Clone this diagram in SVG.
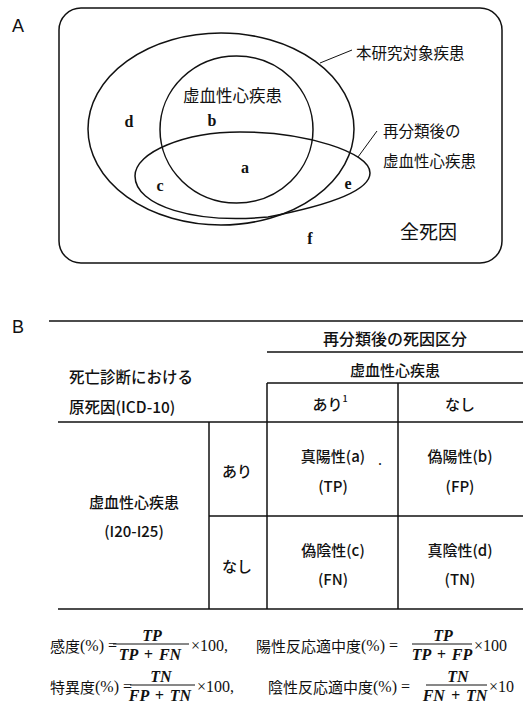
<svg xmlns="http://www.w3.org/2000/svg" width="523" height="712" viewBox="0 0 523 712">
<style>
text{font-family:"Noto Sans CJK JP","Liberation Sans",sans-serif;fill:#111;dominant-baseline:central}
.lbl{font-family:"Liberation Sans",sans-serif;font-size:18px}
.jp{font-size:15.5px}
.tb{font-size:15px;text-anchor:middle;font-weight:500}
.let{font-family:"Liberation Serif",serif;font-size:16px;text-anchor:middle;font-weight:bold}
.f{font-family:"Liberation Serif",serif;font-style:italic;font-weight:bold;font-size:16px;text-anchor:middle;word-spacing:2px}
.n{font-family:"Liberation Serif",serif;font-size:16px}
.ln{stroke:#111;stroke-width:1.5;fill:none}
.thin{stroke:#111;stroke-width:1;fill:none}
</style>
<rect width="523" height="712" fill="#fff"/>
<g id="panelA">
<text class="lbl" x="12" y="26">A</text>
<g id="all-causes"><rect class="ln" x="59" y="8" width="443" height="255" rx="22"/><text class="jp" x="400" y="230" style="font-size:19px">全死因</text></g>
<g id="study-disease"><ellipse class="ln" cx="221" cy="129" rx="133" ry="96"/><text class="jp" x="356" y="52">本研究対象疾患</text></g>
<g id="ihd"><ellipse class="ln" cx="236.5" cy="129.5" rx="76.5" ry="73.5"/><text class="jp" x="183" y="95" style="font-size:16.5px">虚血性心疾患</text></g>
<g id="reclass"><path class="ln" d="M135,176 C135,152 185,132 240,132 C305,132 370,152 370,173 C370,192 325,206 268,217 C195,224 135,206 135,176 Z"/><text class="jp" x="383" y="130">再分類後の</text><text class="jp" x="383" y="160">虚血性心疾患</text></g>
<g id="regions">
<text class="let" x="129" y="121">d</text>
<text class="let" x="212" y="120">b</text>
<text class="let" x="245" y="167">a</text>
<text class="let" x="160" y="185">c</text>
<text class="let" x="348" y="183">e</text>
<text class="let" x="310" y="238">f</text>
</g>
<g id="leaders">
<line class="thin" x1="320" y1="63" x2="352" y2="50"/>
<line class="thin" x1="358" y1="157" x2="377" y2="131"/>
</g>
</g>
<g id="panelB">
<text class="lbl" x="12" y="327">B</text>
<g id="table-lines">
<line class="ln" x1="49" y1="321" x2="523" y2="321"/>
<line class="ln" x1="267" y1="352" x2="523" y2="352"/>
<line class="ln" x1="267" y1="383" x2="523" y2="383"/>
<line class="ln" x1="58" y1="422" x2="523" y2="422"/>
<line class="ln" x1="209" y1="516" x2="523" y2="516"/>
<line class="ln" x1="58" y1="609" x2="523" y2="609"/>
<line class="ln" x1="267" y1="383" x2="267" y2="609"/>
<line class="ln" x1="398" y1="383" x2="398" y2="609"/>
<line class="ln" x1="209" y1="422" x2="209" y2="609"/>
</g>
<g id="headers">
<text class="tb" x="395" y="338" style="font-size:16px">再分類後の死因区分</text>
<text class="tb" x="395" y="369">虚血性心疾患</text>
<text class="jp" x="69" y="376" style="font-size:15.5px;font-weight:500">死亡診断における</text>
<text class="jp" x="69" y="406" style="font-size:15.5px;font-weight:500">原死因(ICD-10)</text>
<text class="tb" x="330" y="403">あり<tspan font-size="9" dy="-5">1</tspan></text>
<text class="tb" x="460" y="403">なし</text>
<text class="tb" x="237" y="470">あり</text>
<text class="tb" x="237" y="565">なし</text>
<text class="tb" x="134" y="501">虚血性心疾患</text>
<text class="tb" x="134" y="530">(I20-I25)</text>
</g>
<g id="cells">
<text class="tb" x="333" y="455">真陽性(a)</text><text class="n" x="378" y="459" font-size="8">.</text>
<text class="tb" x="333" y="485">(TP)</text>
<text class="tb" x="460" y="455">偽陽性(b)</text>
<text class="tb" x="460" y="485">(FP)</text>
<text class="tb" x="333" y="549">偽陰性(c)</text>
<text class="tb" x="333" y="578">(FN)</text>
<text class="tb" x="460" y="549">真陰性(d)</text>
<text class="tb" x="460" y="578">(TN)</text>
</g>
</g>
<g id="formulas">
<text class="jp" x="50" y="645" style="font-size:15px">感度<tspan class="n">(%) =</tspan></text>
<text class="f" x="152" y="635">TP</text>
<line class="thin" x1="113" y1="644" x2="189" y2="644"/>
<text class="f" x="150" y="654">TP + FN</text>
<text class="n" x="191" y="645">×100,</text>
<text class="jp" x="256" y="645" style="font-size:15px">陽性反応適中度<tspan class="n">(%) =</tspan></text>
<text class="f" x="443" y="635">TP</text>
<line class="thin" x1="412" y1="644" x2="472" y2="644"/>
<text class="f" x="442" y="654">TP + FP</text>
<text class="n" x="474" y="645">×100</text>
<text class="jp" x="50" y="686" style="font-size:15px">特異度<tspan class="n">(%) =</tspan></text>
<text class="f" x="161" y="676">TN</text>
<line class="thin" x1="130" y1="685" x2="195" y2="685"/>
<text class="f" x="160" y="695">FP + TN</text>
<text class="n" x="197" y="686">×100,</text>
<text class="jp" x="268" y="686" style="font-size:15px">陰性反応適中度<tspan class="n">(%) =</tspan></text>
<text class="f" x="458" y="676">TN</text>
<line class="thin" x1="426" y1="685" x2="487" y2="685"/>
<text class="f" x="455" y="695">FN + TN</text>
<text class="n" x="489" y="686">×10</text>
</g>
</svg>
